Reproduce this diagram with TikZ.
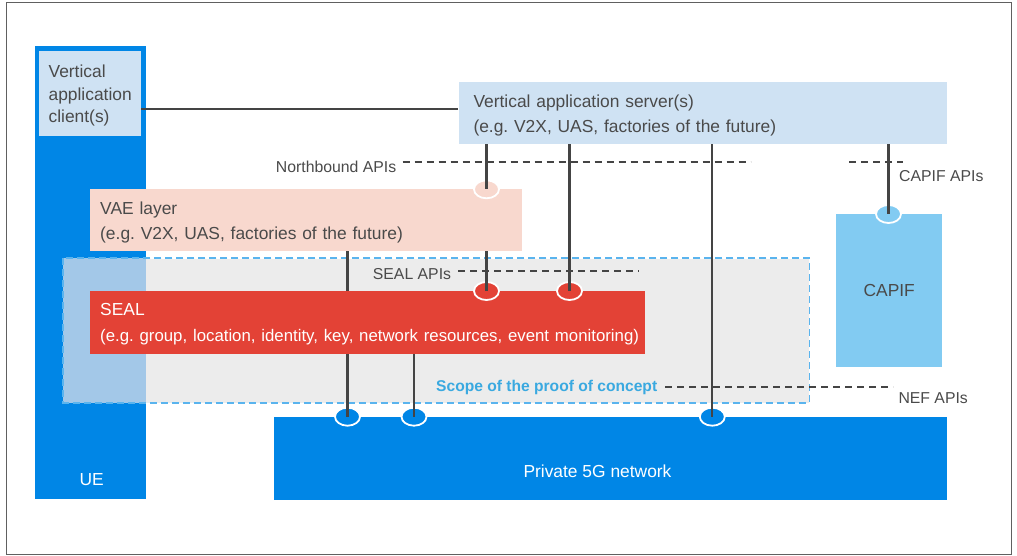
\documentclass[tikz,border=0pt]{standalone}
\usepackage{fontspec}
\setmainfont{Liberation Sans}
\usetikzlibrary{shapes.geometric}
\definecolor{ueblue}{HTML}{0086E6}
\definecolor{lightbox}{HTML}{CFE2F3}
\definecolor{vaepink}{HTML}{F8D8CE}
\definecolor{sealred}{HTML}{E34236}
\definecolor{capifblue}{HTML}{82CBF2}
\definecolor{scopegray}{HTML}{ECECEC}
\definecolor{overlapblue}{HTML}{A3C8E8}
\definecolor{dashblue}{HTML}{5AB4EE}
\definecolor{scopetext}{HTML}{3AA9E0}
\definecolor{linegray}{HTML}{444444}
\definecolor{txtgray}{HTML}{4A4A4A}
\definecolor{framegray}{HTML}{606060}
\begin{document}
\frenchspacing
\begin{tikzpicture}[x=1pt,y=-1pt,
  box/.style={draw=none, inner sep=0pt, anchor=north west, align=left},
  bigtxt/.style={font=\fontsize{17.4}{25}\selectfont},
  lbl/.style={font=\fontsize{15.8}{18}\selectfont, text=txtgray, inner sep=0pt, anchor=west},
  conn/.style={draw=linegray, line width=2.2pt},
  api/.style={draw=linegray, line width=2pt, dash pattern=on 7pt off 5pt},
  port/.style={ellipse, draw=white, line width=1.8pt, minimum width=25pt, minimum height=18pt, inner sep=0pt}]
\useasboundingbox (0,0) rectangle (1017,556);
\draw[framegray, line width=1.5pt] (6.7,2.5) rectangle (1011.7,554.3);

% UE column and client
\node[box, fill=ueblue, minimum width=111pt, minimum height=453pt] (ue) at (35,46) {};
\node[text=white, bigtxt, inner sep=0pt] (uelbl) at (91.7,479.3) {UE};
\node[box, fill=lightbox, minimum width=102pt, minimum height=85pt, text=txtgray, text depth=0pt,
      font=\fontsize{17.4}{22.5}\selectfont] (vac) at (39,51) {Vertical\\application\\client(s)};

% scope of proof of concept
\node[box, fill=scopegray, minimum width=745.7pt, minimum height=144pt] (scope) at (63.3,258.3) {};
\fill[overlapblue] (scope.north west) rectangle (ue.east |- scope.south);
\draw[dashblue, line width=1.8pt, dash pattern=on 7pt off 4pt] (scope.north west) rectangle (scope.south east);

% server
\node[box, fill=lightbox, minimum height=61.7pt, text width=458.4pt, inner xsep=15pt, text depth=25pt,
      text=txtgray, bigtxt] (vas) at (458.3,82.3) {Vertical application server(s)\\(e.g. V2X, UAS, factories of the future)};
% VAE
\node[box, fill=vaepink, minimum height=61.7pt, text width=411.7pt, inner xsep=10pt, text depth=24pt,
      text=txtgray, bigtxt] (vae) at (90,189.3) {VAE layer\\(e.g. V2X, UAS, factories of the future)};
% SEAL
\node[box, fill=sealred, minimum height=62.7pt, text width=535pt, inner xsep=10pt, text depth=26.7pt,
      text=white, font=\fontsize{17.4}{26.7}\selectfont] (seal) at (90,291) {SEAL\\\mbox{\fontsize{16.8}{26.7}\selectfont(e.g. group, location, identity, key, network resources, event monitoring)}};
% CAPIF
\node[box, fill=capifblue, minimum width=106pt, minimum height=152.7pt, align=center,
      text=txtgray, bigtxt] (capif) at (836,214) {CAPIF};
% 5G
\node[box, fill=ueblue, minimum width=672.7pt, minimum height=82.6pt] (net) at (274,416.7) {};
\node[text=white, bigtxt, inner sep=0pt, anchor=west] (netlbl) at (523.3,471.7) {Private 5G network};

% labels
\node[lbl] (nb) at (275.7,167.3) {Northbound APIs};
\node[lbl] (sealapi) at (372.7,274.3) {SEAL APIs};
\node[lbl] (capifapi) at (899,176) {CAPIF APIs};
\node[lbl] (nefapi) at (898.3,398.3) {NEF APIs};
\node[anchor=west, text=scopetext, inner sep=0pt, font=\bfseries\fontsize{15.6}{18}\selectfont] (scopelbl) at (436,387.3) {Scope of the proof of concept};

% API dashed lines
\coordinate (nb1) at (402.7,162.5);
\coordinate (nb2) at (750.7,162.5);
\coordinate (cp1) at (849,162.5);
\coordinate (cp2) at (903.3,162.5);
\coordinate (sa1) at (458.3,271);
\coordinate (sa2) at (639.3,271);
\coordinate (nf1) at (665,387.3);
\coordinate (nf2) at (893,387.3);
\draw[api] (nb1) -- (nb2);
\draw[api] (cp1) -- (cp2);
\draw[api] (sa1) -- (sa2);
\draw[api] (nf1) -- (nf2);

% ports
\node[port, fill=vaepink] (pv) at (486.5,189.3) {};
\node[port, fill=sealred] (ps1) at (486.5,291) {};
\node[port, fill=sealred] (ps2) at (569.5,291) {};
\node[port, fill=capifblue] (pc) at (888.5,214) {};
\node[port, fill=ueblue] (pn1) at (347.5,416.7) {};
\node[port, fill=ueblue] (pn2) at (414,416.7) {};
\node[port, fill=ueblue] (pn3) at (712.3,416.7) {};

% connectors
\coordinate (cl) at (141,109);
\draw[draw=linegray, line width=1.4pt] (cl) -- (cl -| vas.west);
\draw[conn] (pv |- vas.south) -- (pv.center);
\draw[conn] (ps2 |- vas.south) -- (ps2.center);
\draw[conn] (pn3 |- vas.south) -- (pn3.center);
\draw[conn] (pc |- vas.south) -- (pc.center);
\draw[conn] (ps1 |- vae.south) -- (ps1.center);
\draw[conn] (pn1 |- vae.south) -- (pn1 |- seal.north);
\draw[conn] (pn1 |- seal.south) -- (pn1.center);
\draw[conn] (pn2 |- seal.south) -- (pn2.center);
\end{tikzpicture}
\end{document}
